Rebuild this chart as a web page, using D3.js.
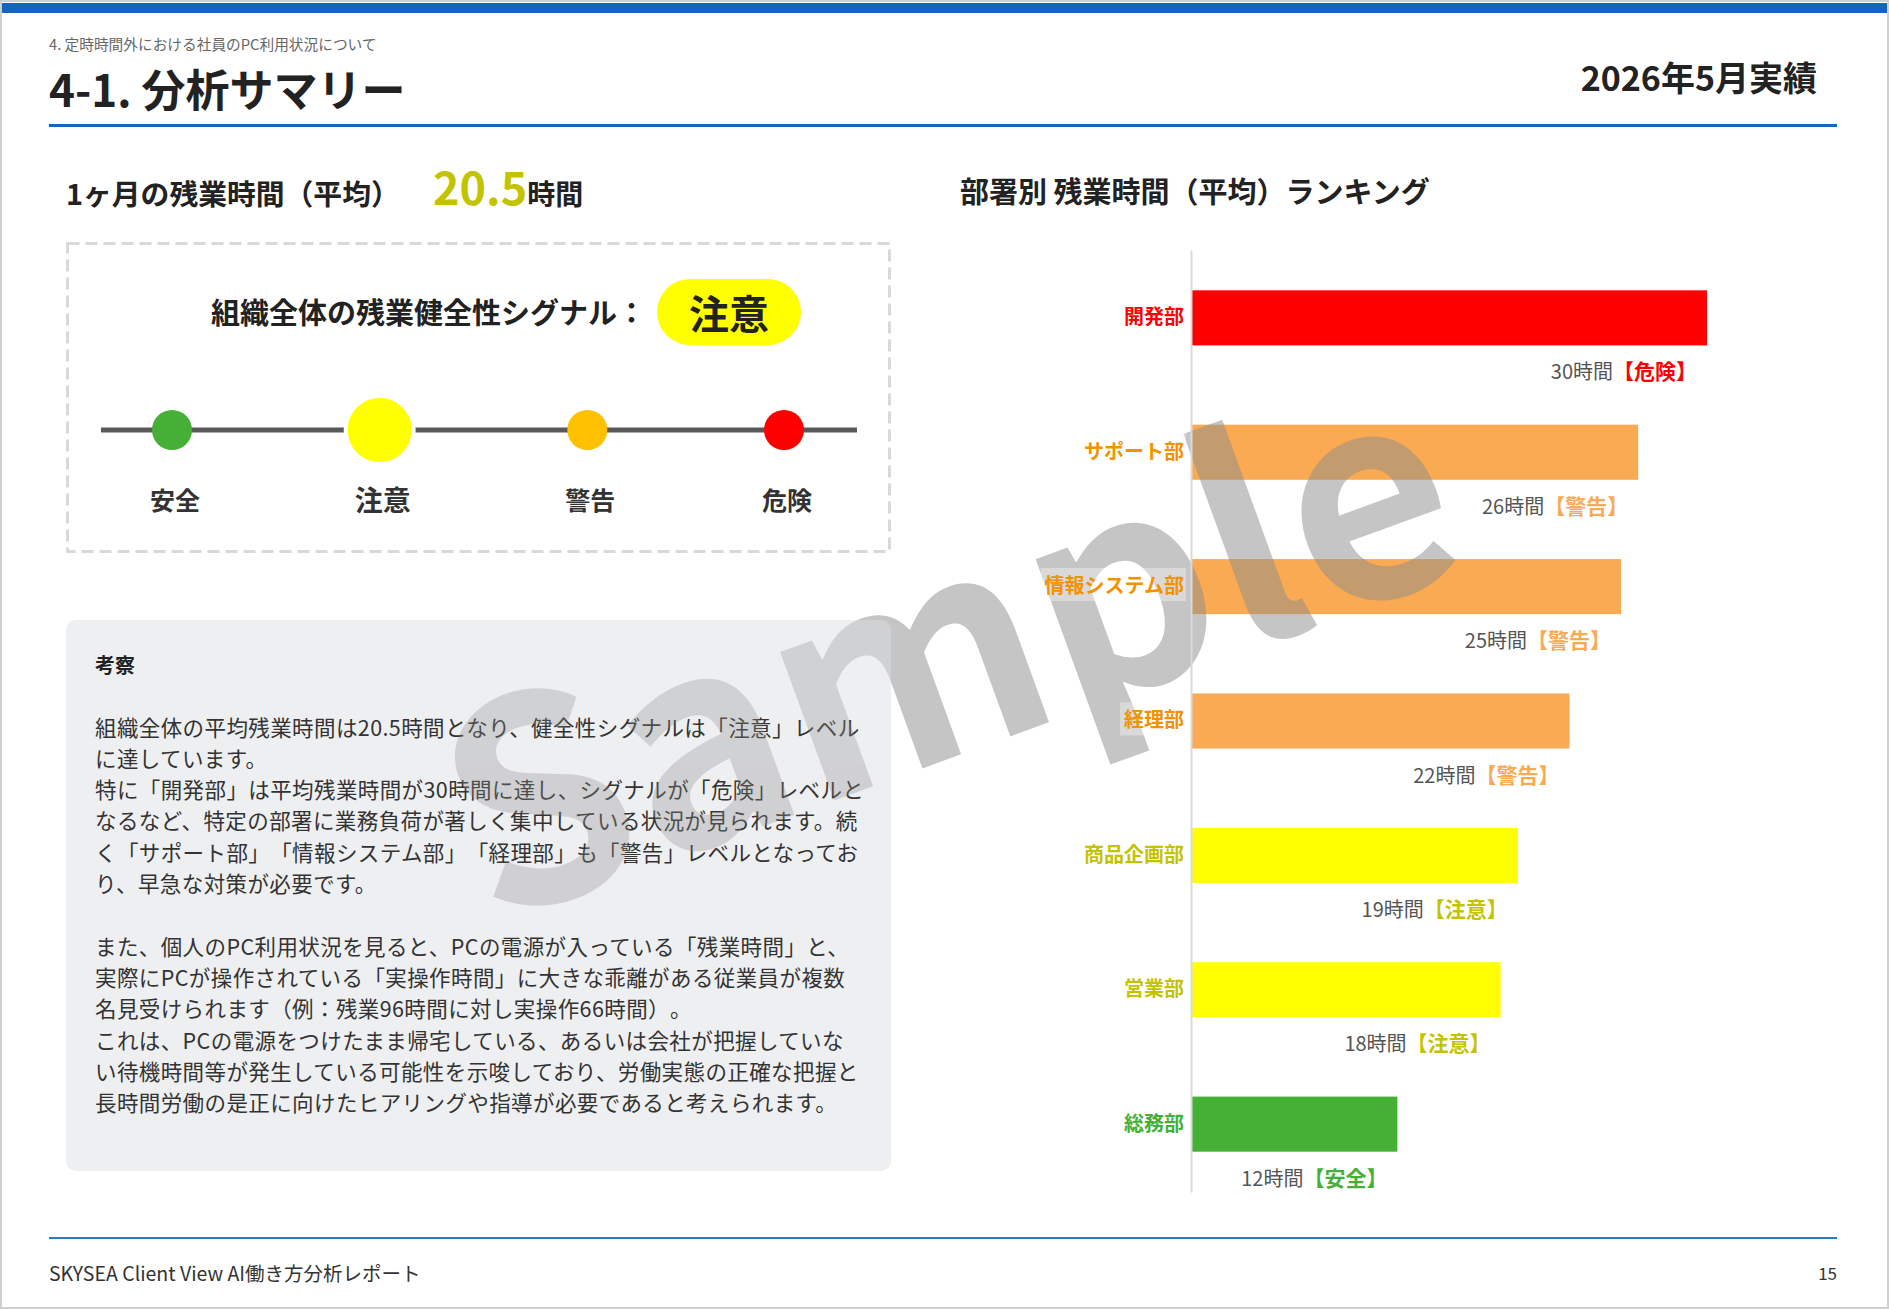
<!DOCTYPE html>
<html>
<head>
<meta charset="utf-8">
<script src="https://cdn.jsdelivr.net/npm/d3@7/dist/d3.min.js"></script>
<style>
  html, body { margin: 0; padding: 0; background: #fff; }
  svg { display: block; }
  text { font-family: "Noto Sans CJK JP", "Noto Sans", sans-serif; text-spacing-trim: space-all; }
</style>
</head>
<body>
<svg id="chart" width="1889" height="1309"></svg>
<script>
// ---------- data ----------
const departments = ["開発部", "サポート部", "情報システム部", "経理部", "商品企画部", "営業部", "総務部"];
const overtimeHours = [30, 26, 25, 22, 19, 18, 12];
const deptStatus = ["危険", "警告", "警告", "警告", "注意", "注意", "安全"];
const signalLevels = ["安全", "注意", "警告", "危険"];
const orgAverage = 20.5;
const orgStatus = "注意";
const sectionLabel = "4. 定時時間外における社員のPC利用状況について";
const pageTitle = "4-1. 分析サマリー";
const periodLabel = "2026年5月実績";
const footerLabel = "SKYSEA Client View AI働き方分析レポート";
const pageNumber = "15";
const commentaryTitle = "考察";
const commentaryLines = [
  "組織全体の平均残業時間は20.5時間となり、健全性シグナルは「注意」レベル",
  "に達しています。",
  "特に「開発部」は平均残業時間が30時間に達し、シグナルが「危険」レベルと",
  "なるなど、特定の部署に業務負荷が著しく集中している状況が見られます。続",
  "く「サポート部」「情報システム部」「経理部」も「警告」レベルとなってお",
  "り、早急な対策が必要です。",
  "",
  "また、個人のPC利用状況を見ると、PCの電源が入っている「残業時間」と、",
  "実際にPCが操作されている「実操作時間」に大きな乖離がある従業員が複数",
  "名見受けられます（例：残業96時間に対し実操作66時間）。",
  "これは、PCの電源をつけたまま帰宅している、あるいは会社が把握していな",
  "い待機時間等が発生している可能性を示唆しており、労働実態の正確な把握と",
  "長時間労働の是正に向けたヒアリングや指導が必要であると考えられます。"
];

// ---------- styles ----------
const signalColor = { "安全": "#45b035", "注意": "#ffff00", "警告": "#ffc000", "危険": "#ff0000" };
const barColor    = { "安全": "#45b035", "注意": "#ffff00", "警告": "#f9aa52", "危険": "#ff0000" };
const labelColor  = { "安全": "#45b035", "注意": "#c3c300", "警告": "#f39200", "危険": "#ff0000" };
const tagColor    = { "安全": "#45b035", "注意": "#c3c300", "警告": "#f9aa52", "危険": "#ff0000" };

const svg = d3.select("#chart");
const W = 1889, H = 1309;

// page frame
svg.append("rect").attr("x", 0).attr("y", 0).attr("width", W).attr("height", H).attr("fill", "#fff");
svg.append("rect").attr("x", 2).attr("y", 3).attr("width", W - 4).attr("height", 10).attr("fill", "#1565c0");

// header
svg.append("text").attr("x", 49).attr("y", 43).attr("dominant-baseline", "central")
  .attr("font-size", 14.7).attr("fill", "#666").text(sectionLabel);
svg.append("text").attr("x", 49).attr("y", 88).attr("dominant-baseline", "central")
  .attr("font-size", 44).attr("font-weight", 700).attr("fill", "#222").text(pageTitle);
svg.append("text").attr("x", 1817).attr("y", 76).attr("dominant-baseline", "central")
  .attr("text-anchor", "end").attr("font-size", 34).attr("font-weight", 700).attr("fill", "#222").text(periodLabel);
svg.append("rect").attr("x", 49).attr("y", 124).attr("width", 1788).attr("height", 3).attr("fill", "#1565c0");

// ---------- left: monthly average ----------
svg.append("text").attr("x", 66).attr("y", 205)
  .attr("font-size", 28.8).attr("font-weight", 700).attr("fill", "#222").text("1ヶ月の残業時間（平均）");
const avgText = svg.append("text").attr("x", 433).attr("y", 205).attr("font-weight", 700);
avgText.append("tspan").attr("font-size", 45).attr("fill", labelColor[orgStatus]).text(orgAverage.toFixed(1));
avgText.append("tspan").attr("font-size", 28).attr("fill", "#222").text("時間");

// dashed signal box
svg.append("rect").attr("x", 67.5).attr("y", 243.5).attr("width", 822).attr("height", 308)
  .attr("fill", "none").attr("stroke", "#d9d9d9").attr("stroke-width", 3).attr("stroke-dasharray", "12 6");

svg.append("text").attr("x", 211).attr("y", 311).attr("dominant-baseline", "central")
  .attr("font-size", 29).attr("font-weight", 700).attr("fill", "#222").text("組織全体の残業健全性シグナル：");
svg.append("rect").attr("x", 657).attr("y", 279).attr("width", 144).attr("height", 66).attr("rx", 33)
  .attr("fill", signalColor[orgStatus]);
svg.append("text").attr("x", 729).attr("y", 312).attr("dominant-baseline", "central").attr("text-anchor", "middle")
  .attr("font-size", 40).attr("font-weight", 700).attr("fill", "#222").text(orgStatus);

// signal steps laid out like a space-between row (active item is wider)
const itemW = d => d === orgStatus ? 72 : 50;
const firstC = 172, lastC = 784;
const fixedSpan = d3.sum(signalLevels, itemW) - itemW(signalLevels[0]) / 2 - itemW(signalLevels[signalLevels.length - 1]) / 2;
const gap = (lastC - firstC - fixedSpan) / (signalLevels.length - 1);
const sigPos = {};
let cursor = firstC - itemW(signalLevels[0]) / 2;
signalLevels.forEach(d => { sigPos[d] = cursor + itemW(d) / 2; cursor += itemW(d) + gap; });

svg.append("line").attr("x1", 101).attr("x2", 857).attr("y1", 430).attr("y2", 430)
  .attr("stroke", "#595959").attr("stroke-width", 5);
svg.selectAll("circle.sig").data(signalLevels).join("circle").attr("class", "sig")
  .attr("cx", d => sigPos[d]).attr("cy", 430)
  .attr("r", d => d === orgStatus ? 34 : 20)
  .attr("fill", d => signalColor[d])
  .attr("stroke", d => d === orgStatus ? "#fff" : "none")
  .attr("stroke-width", 4);
svg.selectAll("text.sigl").data(signalLevels).join("text").attr("class", "sigl")
  .attr("x", d => sigPos[d] + 3).attr("y", 499).attr("dominant-baseline", "central").attr("text-anchor", "middle")
  .attr("font-size", d => d === orgStatus ? 28 : 25).attr("font-weight", 700).attr("fill", "#333")
  .text(d => d);

// ---------- commentary box ----------
const box = { x: 66, y: 620, w: 825, h: 551 };
svg.append("rect").attr("x", box.x).attr("y", box.y).attr("width", box.w).attr("height", box.h)
  .attr("rx", 10).attr("fill", "#eeeff1");
svg.append("text").attr("x", 95).attr("y", 664).attr("dominant-baseline", "central")
  .attr("font-size", 20).attr("font-weight", 700).attr("fill", "#222").text(commentaryTitle);
svg.selectAll("text.cm").data(commentaryLines).join("text").attr("class", "cm")
  .attr("x", 95).attr("y", (d, i) => 726 + i * 31.3).attr("dominant-baseline", "central")
  .attr("font-size", 21.5).attr("letter-spacing", 0.4).attr("fill", "#333").text(d => d);

// ---------- right: ranking chart ----------
svg.append("text").attr("x", 960).attr("y", 190).attr("dominant-baseline", "central")
  .attr("font-size", 29).attr("font-weight", 700).attr("fill", "#222").text("部署別 残業時間（平均）ランキング");

const rows = departments.map((d, i) => ({ dept: d, value: overtimeHours[i], status: deptStatus[i] }));
const x = d3.scaleLinear().domain([0, 35]).range([1191, 1793]);
const y = d3.scaleBand().domain(departments).range([250, 1192]).paddingInner(0.59).paddingOuter(0.3);

const chart = svg.append("g");
chart.selectAll("rect.bar").data(rows).join("rect").attr("class", "bar")
  .attr("x", x(0)).attr("y", d => y(d.dept))
  .attr("width", d => x(d.value) - x(0)).attr("height", y.bandwidth())
  .attr("fill", d => barColor[d.status]);

const vl = chart.selectAll("text.vl").data(rows).join("text").attr("class", "vl")
  .attr("x", d => x(d.value) - 10).attr("y", d => y(d.dept) + y.bandwidth() + 25)
  .attr("dominant-baseline", "central").attr("text-anchor", "end").attr("font-size", 20);
vl.append("tspan").attr("fill", "#555").text(d => d.value + "時間");
vl.append("tspan").attr("fill", d => tagColor[d.status]).attr("font-weight", 700).attr("font-size", 21)
  .text(d => "【" + d.status + "】");

// ---------- watermark ----------
const defs = svg.append("defs");
const mask = defs.append("mask").attr("id", "outsideBox");
mask.append("rect").attr("x", 0).attr("y", 0).attr("width", W).attr("height", H).attr("fill", "#fff");
mask.append("rect").attr("x", box.x).attr("y", box.y).attr("width", box.w).attr("height", box.h).attr("rx", 10).attr("fill", "#000");
defs.append("clipPath").attr("id", "insideBox").append("rect")
  .attr("x", box.x).attr("y", box.y).attr("width", box.w).attr("height", box.h).attr("rx", 10);

function watermark(g, op) {
  g.append("text").attr("transform", "translate(984,746) rotate(-20)")
    .attr("text-anchor", "middle").attr("font-family", "'Liberation Sans', Arial, sans-serif")
    .attr("font-weight", 700).attr("font-size", 282).attr("fill", "#8c8c8c").attr("opacity", op)
    .text("Sample");
}
watermark(svg.append("g").attr("mask", "url(#outsideBox)"), 0.5);
watermark(svg.append("g").attr("clip-path", "url(#insideBox)"), 0.3);

// axis & department labels (above watermark)
const axis = svg.append("g").attr("transform", `translate(${x(0)},0)`)
  .call(d3.axisLeft(y).tickSize(0).tickPadding(7));
axis.select(".domain").attr("stroke", "#d9d9d9").attr("stroke-width", 2);
axis.selectAll(".tick text")
  .attr("font-family", "'Noto Sans CJK JP', sans-serif").attr("font-size", 20).attr("font-weight", 700)
  .attr("fill", d => labelColor[deptStatus[departments.indexOf(d)]]);
axis.selectAll(".tick").each(function () {
  const t = d3.select(this).select("text");
  const bb = t.node().getBBox();
  d3.select(this).insert("rect", "text")
    .attr("x", bb.x - 4).attr("y", bb.y - 2).attr("width", bb.width + 6).attr("height", bb.height + 4)
    .attr("fill", "#fff").attr("opacity", 0.35);
});

// footer
svg.append("rect").attr("x", 49).attr("y", 1237).attr("width", 1788).attr("height", 2).attr("fill", "#2b7bc8");
svg.append("text").attr("x", 49).attr("y", 1272).attr("dominant-baseline", "central")
  .attr("font-size", 19.5).attr("fill", "#333").text(footerLabel);
svg.append("text").attr("x", 1837).attr("y", 1272).attr("dominant-baseline", "central").attr("text-anchor", "end")
  .attr("font-size", 17).attr("fill", "#333").text(pageNumber);

// page border
svg.append("rect").attr("x", 1).attr("y", 1).attr("width", W - 2).attr("height", H - 2)
  .attr("fill", "none").attr("stroke", "#cfcfcf").attr("stroke-width", 2);
</script>
</body>
</html>
